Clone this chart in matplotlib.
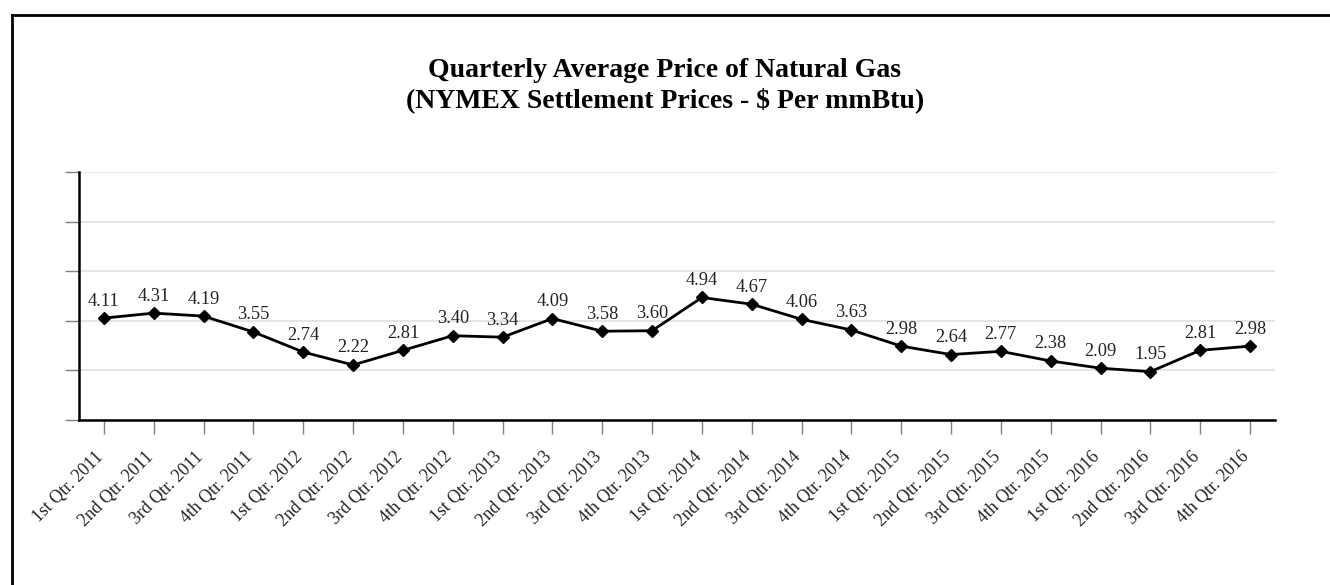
import matplotlib
matplotlib.use("Agg")
import matplotlib.pyplot as plt
from matplotlib.lines import Line2D

# quarterly NYMEX settlement averages ($/mmBtu)
quarters = [
    "1st Qtr. 2011", "2nd Qtr. 2011", "3rd Qtr. 2011", "4th Qtr. 2011",
    "1st Qtr. 2012", "2nd Qtr. 2012", "3rd Qtr. 2012", "4th Qtr. 2012",
    "1st Qtr. 2013", "2nd Qtr. 2013", "3rd Qtr. 2013", "4th Qtr. 2013",
    "1st Qtr. 2014", "2nd Qtr. 2014", "3rd Qtr. 2014", "4th Qtr. 2014",
    "1st Qtr. 2015", "2nd Qtr. 2015", "3rd Qtr. 2015", "4th Qtr. 2015",
    "1st Qtr. 2016", "2nd Qtr. 2016", "3rd Qtr. 2016", "4th Qtr. 2016",
]
prices = [4.11, 4.31, 4.19, 3.55, 2.74, 2.22, 2.81, 3.40, 3.34, 4.09, 3.58, 3.60,
          4.94, 4.67, 4.06, 3.63, 2.98, 2.64, 2.77, 2.38, 2.09, 1.95, 2.81, 2.98]
y_ticks = [0, 2, 4, 6, 8, 10]

plt.rcParams['font.family'] = ['Liberation Serif', 'DejaVu Serif']

fig = plt.figure(figsize=(13.3, 5.85), dpi=100)
ax = fig.add_axes([0.0594, 0.282, 0.8992, 0.424])

x = list(range(len(quarters)))
ax.plot(x, prices, color='black', lw=2, marker='D', markersize=6.5, zorder=3)

for xi, p in zip(x, prices):
    ax.annotate(f"{p:.2f}", (xi, p), xytext=(0, 9), textcoords='offset points',
                ha='center', va='baseline', fontsize=13.2, color='#222222')

ax.set_xlim(-0.5, len(quarters) - 0.5)
ax.set_ylim(0, 10)
ax.set_yticks(y_ticks)
ax.set_yticklabels([])
ax.set_xticks(x)
ax.set_xticklabels(quarters, rotation=45, ha='right', va='baseline', rotation_mode='anchor',
                   fontsize=12.8, color='#222222')
ax.tick_params(axis='x', length=10, width=1, color='#808080', pad=17)
ax.tick_params(axis='y', length=10, width=1, color='#808080')
ax.grid(axis='y', color='#e4e4e4', lw=1.4)
ax.set_axisbelow(True)

for side in ['top', 'right']:
    ax.spines[side].set_visible(False)
for side in ['left', 'bottom']:
    ax.spines[side].set_linewidth(1.8)
    ax.spines[side].set_color('black')

# two-line title
fig.text(0.5, 1 - 77 / 585, "Quarterly Average Price of Natural Gas",
         ha='center', va='baseline', fontsize=20, fontweight='bold')
fig.text(0.5, 1 - 107 / 585, "(NYMEX Settlement Prices - $ Per mmBtu)",
         ha='center', va='baseline', fontsize=20, fontweight='bold')

# outer frame (top and left edges only)
fig.add_artist(Line2D([11.5 / 1330, 1.0], [1 - 14.5 / 585] * 2, color='black', lw=2))
fig.add_artist(Line2D([11.5 / 1330] * 2, [0.0, 1 - 14.5 / 585], color='black', lw=2))

fig.savefig("out.png", dpi=100)
